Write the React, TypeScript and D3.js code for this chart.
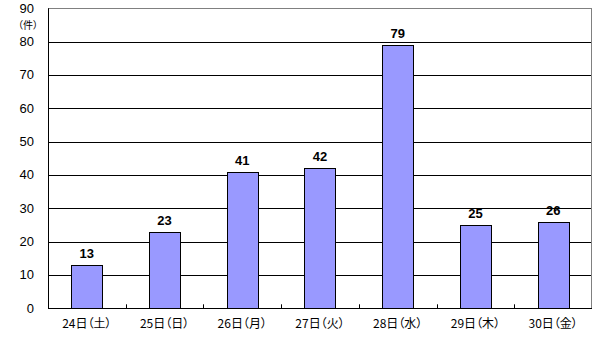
import React from "react";
import * as d3 from "d3";

const categories = ["24日（土）", "25日（日）", "26日（月）", "27日（火）", "28日（水）", "29日（木）", "30日（金）"];
const values = [13, 23, 41, 42, 79, 25, 26];
const yTicks = [0, 10, 20, 30, 40, 50, 60, 70, 80, 90];
const unitLabel = "（件）";

export default function App() {
  const W = 599, H = 350;
  const left = 48, right = 592, top = 8.3, bottom = 308.3;
  const x = d3.scaleBand<string>().domain(categories).range([left, right]).paddingInner(0).paddingOuter(0);
  const y = d3.scaleLinear().domain([0, 90]).range([bottom, top]);
  const bw = x.bandwidth() * 0.4;
  const num = "'Liberation Sans', Arial, sans-serif";
  const jp = "'Noto Sans CJK JP', sans-serif";
  const palt = { fontFeatureSettings: "'palt' 1" } as React.CSSProperties;
  return (
    <svg width={W} height={H} style={{ position: "absolute", left: 0, top: 0 }}>
      <rect x={0} y={0} width={W} height={H} fill="#fff" />
      {yTicks.filter(t => t > 0 && t < 90).map(t => (
        <line key={t} x1={left} x2={right} y1={Math.round(y(t)) + 0.5} y2={Math.round(y(t)) + 0.5} stroke="#000" />
      ))}
      <line x1={left} x2={right} y1={Math.round(y(90)) + 0.5} y2={Math.round(y(90)) + 0.5} stroke="#808080" />
      <line x1={right - 0.5} x2={right - 0.5} y1={y(90)} y2={y(0)} stroke="#808080" />
      {categories.map((c, i) => {
        const cx = (x(c) as number) + x.bandwidth() / 2;
        const bx = Math.round(cx - bw / 2) + 0.5;
        const by = Math.round(y(values[i])) + 0.5;
        return (
          <g key={c}>
            <rect x={bx} y={by} width={Math.round(bw)} height={Math.round(y(0)) - by + 0.5} fill="#9999FF" stroke="#000" />
            <text x={cx} y={by - 8} textAnchor="middle" fontFamily={num} fontWeight="bold" fontSize={13}>{values[i]}</text>
            <text x={cx} y={328} textAnchor="middle" fontFamily={jp} fontSize={12} style={palt}>{c}</text>
          </g>
        );
      })}
      {categories.slice(1).map(c => (
        <line key={c} x1={Math.round(x(c) as number) + 0.5} x2={Math.round(x(c) as number) + 0.5} y1={bottom} y2={bottom - 4} stroke="#000" />
      ))}
      <line x1={left + 0.5} x2={left + 0.5} y1={y(90)} y2={y(0) + 0.5} stroke="#000" />
      <line x1={left} x2={right} y1={Math.round(y(0)) + 0.5} y2={Math.round(y(0)) + 0.5} stroke="#000" />
      {yTicks.map(t => (
        <text key={t} x={34} y={y(t) + 4.5} textAnchor="end" fontFamily={num} fontSize={13}>{t}</text>
      ))}
      <text x={28} y={28.5} textAnchor="middle" fontFamily={jp} fontSize={10} style={palt}>{unitLabel}</text>
    </svg>
  );
}
